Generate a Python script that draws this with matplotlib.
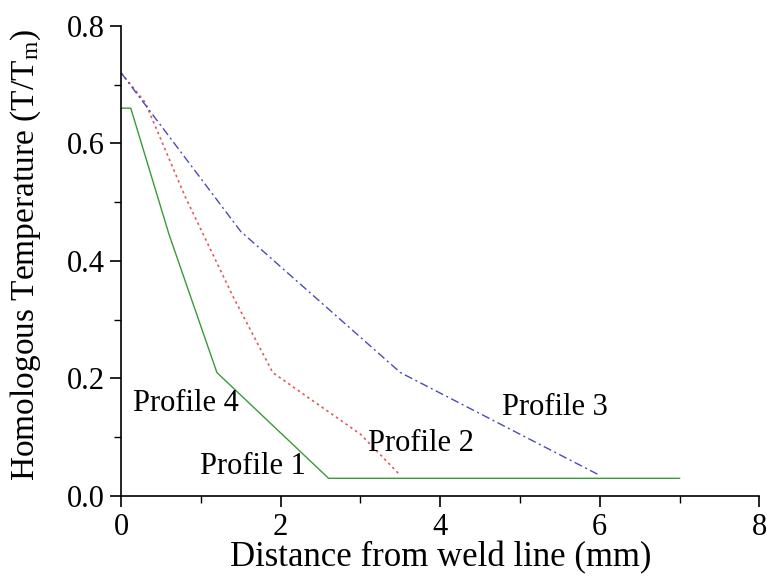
import matplotlib
matplotlib.use("Agg")
import matplotlib.pyplot as plt
from matplotlib.ticker import MultipleLocator, FormatStrFormatter

plt.rcParams['font.family'] = ['Liberation Serif', 'DejaVu Serif']
plt.rcParams['mathtext.fontset'] = 'custom'
plt.rcParams['mathtext.rm'] = 'Liberation Serif'
plt.rcParams['mathtext.it'] = 'Liberation Serif:italic'

# Profile 1 (green, solid)
p1_x = [0.0, 0.12, 0.6, 1.2, 2.6, 7.0]
p1_y = [0.66, 0.66, 0.445, 0.21, 0.03, 0.03]
# Profile 2 (red, dotted)
p2_x = [0.0, 0.3, 0.8, 1.4, 1.9, 3.0, 3.5]
p2_y = [0.72, 0.67, 0.51, 0.34, 0.21, 0.105, 0.035]
# Profile 3 (blue, dash-dot)
p3_x = [0.0, 1.5, 3.5, 6.0]
p3_y = [0.72, 0.45, 0.21, 0.035]

labels = ["Profile 4", "Profile 1", "Profile 2", "Profile 3"]
label_x = [0.15, 0.99, 3.1, 4.78]
label_y = [0.158, 0.05, 0.09, 0.15]

fig = plt.figure(figsize=(7.67, 5.76), dpi=100)
ax = fig.add_axes([0.158, 0.139, 0.832, 0.816])

ax.plot(p1_x, p1_y, color='#3a9a3a', lw=1.0, ls='-')
ax.plot(p2_x, p2_y, color='#e05a5a', lw=1.2, ls=(0, (1.5, 2)))
ax.plot(p3_x, p3_y, color='#4a4ac0', lw=1.0, ls=(0, (6, 2.5, 1.5, 2.5)))

for t, x, y in zip(labels, label_x, label_y):
    ax.text(x, y, t, fontsize=22, va='center', ha='left')

ax.set_xlim(0, 8)
ax.set_ylim(0, 0.8)
ax.xaxis.set_major_locator(MultipleLocator(2))
ax.xaxis.set_minor_locator(MultipleLocator(1))
ax.yaxis.set_major_locator(MultipleLocator(0.2))
ax.yaxis.set_minor_locator(MultipleLocator(0.1))
ax.yaxis.set_major_formatter(FormatStrFormatter('%.1f'))

for s in ['top', 'right']:
    ax.spines[s].set_visible(False)
for s in ['left', 'bottom']:
    ax.spines[s].set_linewidth(1.2)

ax.tick_params(which='major', direction='out', length=8, width=1.2, labelsize=22, pad=4)
ax.tick_params(which='minor', direction='out', length=5, width=1.0)

ax.set_xlabel('Distance from weld line (mm)', fontsize=25, labelpad=0)
ax.set_ylabel(r'Homologous Temperature (T/T$_\mathrm{m}$)', fontsize=24)
ax.yaxis.set_label_coords(-0.122, 0.513)

fig.savefig('out.png', dpi=100)
